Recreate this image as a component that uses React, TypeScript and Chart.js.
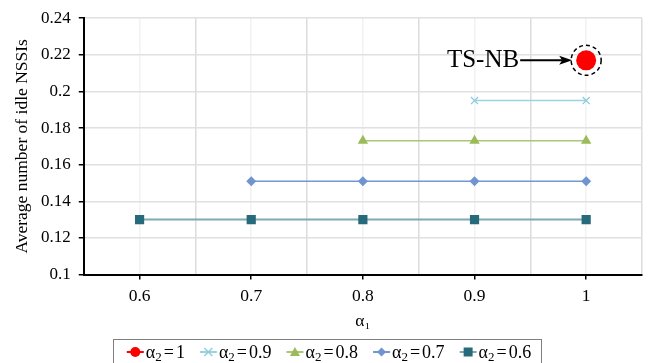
import React, { useEffect, useRef } from "react";
import { Chart, registerables } from "chart.js";

Chart.register(...registerables);

const seriesNames = ["α₂=1", "α₂=0.9", "α₂=0.8", "α₂=0.7", "α₂=0.6"];
const legendValues = ["1", "0.9", "0.8", "0.7", "0.6"];
const xA2_1 = [1];
const yA2_1 = [0.217];
const xA2_09 = [0.9, 1];
const yA2_09 = [0.195, 0.195];
const xA2_08 = [0.8, 0.9, 1];
const yA2_08 = [0.173, 0.173, 0.173];
const xA2_07 = [0.7, 0.8, 0.9, 1];
const yA2_07 = [0.151, 0.151, 0.151, 0.151];
const xA2_06 = [0.6, 0.7, 0.8, 0.9, 1];
const yA2_06 = [0.13, 0.13, 0.13, 0.13, 0.13];

const xTicks = [0.55, 0.6, 0.65, 0.7, 0.75, 0.8, 0.85, 0.9, 0.95, 1, 1.05];
const xTickLabels = ["", "0.6", "", "0.7", "", "0.8", "", "0.9", "", "1", ""];
const yTicks = [0.1, 0.12, 0.14, 0.16, 0.18, 0.2, 0.22, 0.24];
const yTickLabels = ["0.1", "0.12", "0.14", "0.16", "0.18", "0.2", "0.22", "0.24"];

const annotationText = "TS-NB";
const xTitle = "α₁";
const yTitle = "Average number of idle NSSIs";

const FONT = "'Liberation Serif', serif";

type Style = {
  line: string;
  marker: string;
  pointStyle: string;
  radius: number;
  lineWidth: number;
};

const styles: Style[] = [
  { line: "#ff0000", marker: "#ff0000", pointStyle: "circle", radius: 10, lineWidth: 2 },
  { line: "#9dd3e0", marker: "#8ccbdc", pointStyle: "crossRot", radius: 5, lineWidth: 1.5 },
  { line: "#a8c878", marker: "#9bbb59", pointStyle: "triangle", radius: 6, lineWidth: 1.5 },
  { line: "#6f98d4", marker: "#6f94cf", pointStyle: "rectRot", radius: 5, lineWidth: 1.5 },
  { line: "#7faab4", marker: "#276a7c", pointStyle: "rect", radius: 6.5, lineWidth: 2 },
];

function pairs(xs: number[], ys: number[]) {
  return xs.map((x, i) => ({ x, y: ys[i] }));
}

function drawLegendSymbol(ctx: CanvasRenderingContext2D, s: Style, x: number, y: number, w: number) {
  ctx.save();
  ctx.strokeStyle = s.line;
  ctx.lineWidth = 2;
  ctx.beginPath();
  ctx.moveTo(x, y);
  ctx.lineTo(x + w, y);
  ctx.stroke();
  ctx.fillStyle = s.marker;
  ctx.strokeStyle = s.marker;
  const cx = x + w / 2, cy = y;
  ctx.beginPath();
  if (s.pointStyle === "circle") {
    ctx.arc(cx, cy, 5, 0, Math.PI * 2);
    ctx.fill();
  } else if (s.pointStyle === "crossRot") {
    ctx.lineWidth = 1.3;
    ctx.moveTo(cx - 4, cy - 4);
    ctx.lineTo(cx + 4, cy + 4);
    ctx.moveTo(cx + 4, cy - 4);
    ctx.lineTo(cx - 4, cy + 4);
    ctx.stroke();
  } else if (s.pointStyle === "triangle") {
    ctx.moveTo(cx, cy - 5);
    ctx.lineTo(cx + 5, cy + 4);
    ctx.lineTo(cx - 5, cy + 4);
    ctx.closePath();
    ctx.fill();
  } else if (s.pointStyle === "rectRot") {
    ctx.moveTo(cx, cy - 4.5);
    ctx.lineTo(cx + 4.5, cy);
    ctx.lineTo(cx, cy + 4.5);
    ctx.lineTo(cx - 4.5, cy);
    ctx.closePath();
    ctx.fill();
  } else {
    ctx.rect(cx - 4.5, cy - 4.5, 9, 9);
    ctx.fill();
  }
  ctx.restore();
}

const annotationPlugin = {
  id: "tsnb",
  afterDatasetsDraw(chart: any) {
    const { ctx, scales } = chart;
    const px = scales.x.getPixelForValue(xA2_1[0]);
    const py = scales.y.getPixelForValue(yA2_1[0]);
    ctx.save();
    ctx.setLineDash([4, 3]);
    ctx.lineWidth = 1.5;
    ctx.strokeStyle = "#000";
    ctx.beginPath();
    ctx.arc(px, py, 15, 0, Math.PI * 2);
    ctx.stroke();
    ctx.setLineDash([]);
    ctx.lineWidth = 2;
    ctx.beginPath();
    ctx.moveTo(px - 66, py);
    ctx.lineTo(px - 24, py);
    ctx.stroke();
    ctx.fillStyle = "#000";
    ctx.beginPath();
    ctx.moveTo(px - 14, py);
    ctx.lineTo(px - 27, py - 4.5);
    ctx.lineTo(px - 24, py);
    ctx.lineTo(px - 27, py + 4.5);
    ctx.closePath();
    ctx.fill();
    ctx.font = `25px ${FONT}`;
    ctx.textAlign = "right";
    ctx.textBaseline = "middle";
    ctx.fillText(annotationText, px - 67, py);
    ctx.restore();
  },
};

// Legend drawn as real canvas text: symbol, "α", subscript "2", "=", value
const legendPlugin = {
  id: "customLegend",
  afterDraw(chart: any) {
    const { ctx } = chart;
    const big = `18px ${FONT}`;
    const small = `13px ${FONT}`;
    const symW = 17, symGap = 2, itemGap = 15, eqPad = 2;
    ctx.save();
    const measure = (v: string) => {
      ctx.font = big;
      const a = ctx.measureText("α").width;
      const e = ctx.measureText("=").width;
      const val = ctx.measureText(v).width;
      ctx.font = small;
      const s = ctx.measureText("2").width;
      return { a, e, val, s, total: a + s + eqPad + e + eqPad + val };
    };
    const ms = legendValues.map(measure);
    const widths = ms.map((m) => symW + symGap + m.total);
    const total = widths.reduce((p, c) => p + c, 0) + itemGap * (widths.length - 1);
    let x = chart.width / 2 + 5 - total / 2;
    const y = chart.height - 11;
    const boxLeft = x - 14;
    const boxRight = x + total + 10;
    ctx.strokeStyle = "#7f7f7f";
    ctx.lineWidth = 1;
    ctx.strokeRect(Math.round(boxLeft) + 0.5, Math.round(y - 13) + 0.5, Math.round(boxRight - boxLeft), 40);
    ctx.fillStyle = "#000";
    ctx.textBaseline = "alphabetic";
    ctx.textAlign = "left";
    const base = y + 6;
    legendValues.forEach((v, i) => {
      drawLegendSymbol(ctx, styles[i], x, y, symW);
      let tx = x + symW + symGap;
      const m = ms[i];
      ctx.font = big;
      ctx.fillText("α", tx, base);
      tx += m.a;
      ctx.font = small;
      ctx.fillText("2", tx, base + 3);
      tx += m.s + eqPad;
      ctx.font = big;
      ctx.fillText("=", tx, base);
      tx += m.e + eqPad;
      ctx.fillText(v, tx, base);
      x += widths[i] + itemGap;
    });
    ctx.restore();
  },
};

export default function App() {
  const ref = useRef<HTMLCanvasElement | null>(null);
  useEffect(() => {
    document.body.style.margin = "0";
    const canvas = ref.current!;
    const xs = [xA2_1, xA2_09, xA2_08, xA2_07, xA2_06];
    const ys = [yA2_1, yA2_09, yA2_08, yA2_07, yA2_06];
    const datasets = seriesNames.map((name, i) => ({
      label: name,
      data: pairs(xs[i], ys[i]),
      borderColor: styles[i].line,
      backgroundColor: styles[i].marker,
      pointBackgroundColor: styles[i].marker,
      pointBorderColor: styles[i].marker,
      pointBorderWidth: styles[i].pointStyle === "crossRot" ? 1.3 : 0,
      pointStyle: styles[i].pointStyle,
      pointRadius: styles[i].radius,
      borderWidth: styles[i].lineWidth,
      showLine: true,
      fill: false,
      tension: 0,
    }));
    const chart = new Chart(canvas, {
      type: "scatter",
      data: { datasets: datasets as any },
      plugins: [annotationPlugin, legendPlugin],
      options: {
        responsive: false,
        animation: false,
        layout: { autoPadding: false, padding: { left: 12, right: 5, top: 16, bottom: 29 } },
        plugins: {
          tooltip: { enabled: false },
          legend: { display: false },
        },
        scales: {
          x: {
            type: "linear",
            min: 0.55,
            max: 1.05,
            afterBuildTicks: (scale: any) => {
              scale.ticks = xTicks.map((v) => ({ value: v }));
            },
            ticks: {
              color: "#000",
              font: { family: FONT, size: 17.5 },
              padding: 6,
              maxRotation: 0,
              autoSkip: false,
              callback: (_v: any, i: number) => xTickLabels[i],
            },
            grid: {
              color: (c: any) => (xTickLabels[c.index] ? "#f2f2f2" : "#dcdcdc"),
              tickColor: (c: any) => (xTickLabels[c.index] ? "#000" : "rgba(0,0,0,0)"),
              tickLength: 5,
              lineWidth: 1.5,
            },
            border: { color: "#000", width: 2 },
            title: {
              display: true,
              text: xTitle,
              color: "#000",
              font: { family: FONT, size: 17.5, lineHeight: 1 },
              padding: { top: 0, bottom: 4 },
            },
          },
          y: {
            type: "linear",
            min: 0.1,
            max: 0.24,
            afterBuildTicks: (scale: any) => {
              scale.ticks = yTicks.map((v) => ({ value: v }));
            },
            ticks: {
              color: "#000",
              font: { family: FONT, size: 17 },
              padding: 8,
              autoSkip: false,
              callback: (_v: any, i: number) => yTickLabels[i],
            },
            grid: {
              color: "#e0e0e0",
              tickColor: "#000",
              tickLength: 5,
              lineWidth: 1.5,
            },
            border: { color: "#000", width: 2 },
            title: {
              display: true,
              text: yTitle,
              color: "#000",
              font: { family: FONT, size: 17.5 },
              padding: { top: 0, bottom: 0 },
            },
          },
        },
      } as any,
    });
    return () => chart.destroy();
  }, []);
  return (
    <div style={{ position: "absolute", left: 0, top: 0, width: 648, height: 363, background: "#fff" }}>
      <canvas ref={ref} width={648} height={363} />
    </div>
  );
}
